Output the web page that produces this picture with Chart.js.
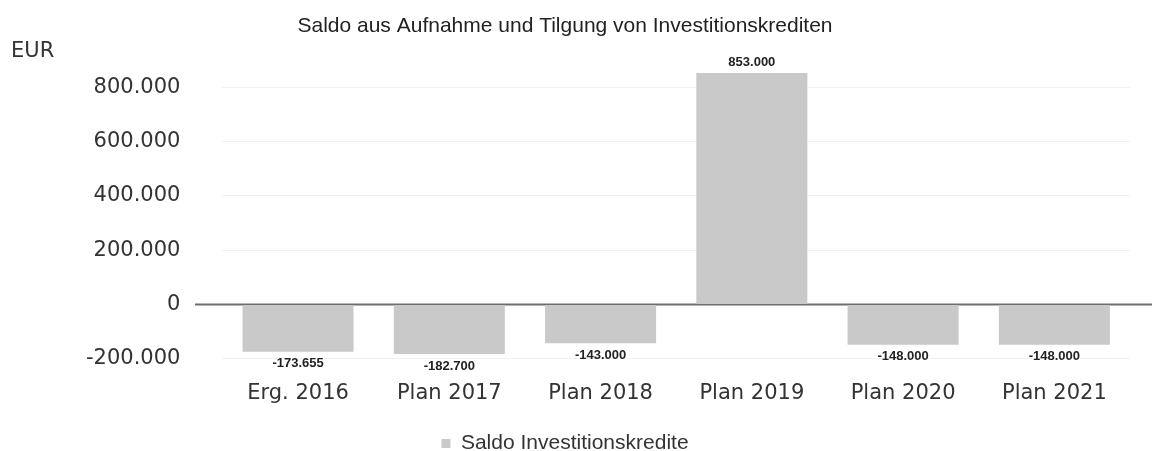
<!DOCTYPE html>
<html>
<head>
<meta charset="utf-8">
<title>Saldo Investitionskredite</title>
<script src="https://cdn.jsdelivr.net/npm/chart.js@4/dist/chart.umd.min.js"></script>
<style>
    html, body { margin: 0; padding: 0; background: #fff; }
    #chart-box { width: 1152px; height: 451px; }
</style>
</head>
<body>
<div id="chart-box"><canvas id="saldo-chart"></canvas></div>
<script>
// Data
const categories = ["Erg. 2016", "Plan 2017", "Plan 2018", "Plan 2019", "Plan 2020", "Plan 2021"];
const saldoValues = [-173655, -182700, -143000, 853000, -148000, -148000];
const yTicks = [-200000, 0, 200000, 400000, 600000, 800000];

// German number format: 853000 -> 853.000
function formatDe(v) {
    const s = Math.abs(Math.round(v)).toString().replace(/\B(?=(\d{3})+(?!\d))/g, ".");
    return (v < 0 ? "-" : "") + s;
}

// Value labels above / below the bars
const valueLabels = {
    id: "valueLabels",
    afterDatasetsDraw(chart) {
        const ctx = chart.ctx;
        const meta = chart.getDatasetMeta(0);
        ctx.save();
        ctx.font = "bold 13px 'Liberation Sans', Arial, sans-serif";
        ctx.fillStyle = "#222";
        ctx.textAlign = "center";
        ctx.textBaseline = "middle";
        meta.data.forEach((bar, i) => {
            const v = saldoValues[i];
            const y = v >= 0 ? bar.y - 11 : bar.y + 12;
            ctx.fillText(formatDe(v), bar.x, y);
        });
        ctx.restore();
    },
};

// Zero line, running a bit wider than the bars, and the EUR unit
const zeroLine = {
    id: "zeroLine",
    beforeDatasetsDraw(chart) {
        const ctx = chart.ctx;
        const y = chart.scales.y.getPixelForValue(0);
        ctx.save();
        ctx.strokeStyle = "#6e6e6e";
        ctx.lineWidth = 2;
        ctx.beginPath();
        ctx.moveTo(195, y);
        ctx.lineTo(chart.width, y);
        ctx.stroke();
        ctx.font = "21px 'DejaVu Sans', sans-serif";
        ctx.fillStyle = "#333";
        ctx.textAlign = "left";
        ctx.textBaseline = "middle";
        ctx.fillText("EUR", 11, 52);
        ctx.restore();
    },
};

const saldo_chart_data = {
    labels: categories,
    datasets: [
        {
            label: "Saldo Investitionskredite",
            data: saldoValues,
            backgroundColor: "#c9c9c9",
            borderWidth: 0,
            barPercentage: 0.734,
            categoryPercentage: 1.0,
        },
    ],
};

const saldo_chart_config = {
    type: "bar",
    data: saldo_chart_data,
    options: {
        responsive: true,
        maintainAspectRatio: false,
        animation: false,
        layout: { padding: { left: 0, right: 22, top: 0, bottom: -13 } },
        plugins: {
            title: {
                display: true,
                text: "Saldo aus Aufnahme und Tilgung von Investitionskrediten",
                color: "#222",
                font: { family: "'Liberation Sans', Arial, sans-serif", size: 21, weight: "normal" },
                padding: { top: 14, bottom: 21 },
            },
            legend: {
                position: "bottom",
                labels: {
                    color: "#333",
                    font: { family: "'Liberation Sans', Arial, sans-serif", size: 21 },
                    boxWidth: 9,
                    boxHeight: 9,
                    padding: 13,
                },
            },
            tooltip: { enabled: false },
        },
        scales: {
            x: {
                grid: { display: false },
                border: { display: false },
                ticks: {
                    color: "#333",
                    font: { family: "'DejaVu Sans', sans-serif", size: 21 },
                    padding: 14,
                    maxRotation: 0,
                },
            },
            y: {
                min: yTicks[0],
                max: 900000,
                grid: { color: "#f1f1f1", drawTicks: false },
                border: { display: false },
                afterBuildTicks(scale) {
                    scale.ticks = yTicks.map((v) => ({ value: v }));
                },
                afterFit(scale) {
                    scale.width += 44;
                },
                ticks: {
                    color: "#333",
                    font: { family: "'DejaVu Sans', sans-serif", size: 21 },
                    padding: 42,
                    callback: (v) => formatDe(v),
                },
            },
        },
    },
    plugins: [zeroLine, valueLabels],
};

const saldoChart = new Chart(document.getElementById("saldo-chart"), saldo_chart_config);
</script>
</body>
</html>
